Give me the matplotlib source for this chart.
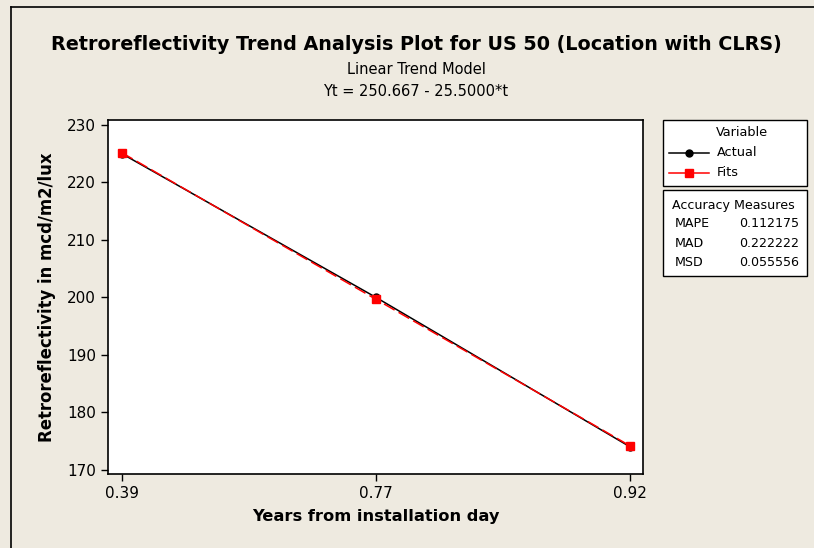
import matplotlib.pyplot as plt
from matplotlib.lines import Line2D
from matplotlib.patches import Rectangle

# trend analysis data
t = [1, 2, 3]
year_labels = ["0.39", "0.77", "0.92"]
actual = [225, 200, 174]
a, b = 250.667, -25.5
fits = [a + b * ti for ti in t]

measure_names = ["MAPE", "MAD", "MSD"]
measure_values = ["0.112175", "0.222222", "0.055556"]

bg = "#eeeae0"
plt.rcParams["font.family"] = "DejaVu Sans"

fig = plt.figure(figsize=(8.14, 5.48), dpi=100)
fig.patch.set_facecolor(bg)

# outer frame
fig.add_artist(Line2D([11/814, 11/814], [0, 1 - 7/548], color="black", lw=1.2))
fig.add_artist(Line2D([11/814, 1], [1 - 7/548, 1 - 7/548], color="black", lw=1.2))

ax = fig.add_axes([108/814, 1 - 474/548, 535/814, 354/548])
ax.set_facecolor("white")
ax.plot(t, actual, color="black", lw=1.1, marker="o", ms=5)
ax.plot(t, fits, color="red", lw=1.1, ls=(0, (8, 3)), marker="s", ms=6)

ax.set_xlim(0.945, 3.05)
ax.set_ylim(169.3, 230.87)
ax.set_xticks(t)
ax.set_xticklabels(year_labels)
ax.set_yticks([170, 180, 190, 200, 210, 220, 230])
ax.tick_params(direction="out", length=5, width=1, labelsize=11, colors="black")
for s in ax.spines.values():
    s.set_linewidth(1.2)
ax.set_xlabel("Years from installation day", fontsize=11.7, fontweight="bold", labelpad=6)
ax.set_ylabel("Retroreflectivity in mcd/m2/lux", fontsize=11.9, fontweight="bold", labelpad=8)

fig.text(416/814, 1 - 45/548, "Retroreflectivity Trend Analysis Plot for US 50 (Location with CLRS)",
         ha="center", va="center", fontsize=13.8, fontweight="bold")
fig.text(416/814, 1 - 69/548, "Linear Trend Model", ha="center", va="center", fontsize=10.5)
fig.text(416/814, 1 - 92/548, "Yt = 250.667 - 25.5000*t", ha="center", va="center", fontsize=10.5)

# legend boxes
fig.add_artist(Rectangle((663/814, 1 - 186/548), 144/814, 66/548, transform=fig.transFigure,
                         facecolor="white", edgecolor="black", lw=1))
fig.add_artist(Rectangle((663/814, 1 - 276/548), 144/814, 86/548, transform=fig.transFigure,
                         facecolor="white", edgecolor="black", lw=1))

fig.text(742/814, 1 - 133/548, "Variable", ha="center", va="center", fontsize=9.3)
fig.add_artist(Line2D([669/814, 709/814], [1 - 153/548] * 2, color="black", lw=1.1))
fig.add_artist(Line2D([689/814], [1 - 153/548], color="black", marker="o", ms=5))
fig.text(717/814, 1 - 153/548, "Actual", ha="left", va="center", fontsize=9.3)
fig.add_artist(Line2D([669/814, 709/814], [1 - 173/548] * 2, color="red", lw=1.1))
fig.add_artist(Line2D([689/814], [1 - 173/548], color="red", marker="s", ms=6))
fig.text(717/814, 1 - 173/548, "Fits", ha="left", va="center", fontsize=9.3)

fig.text(672/814, 1 - 205/548, "Accuracy Measures", ha="left", va="center", fontsize=9.1)
for i, (n, v) in enumerate(zip(measure_names, measure_values)):
    y = 1 - (224 + 19.5 * i) / 548
    fig.text(675/814, y, n, ha="left", va="center", fontsize=9.1)
    fig.text(739/814, y, v, ha="left", va="center", fontsize=9.1)

fig.savefig("out.png", dpi=100, facecolor=bg)
